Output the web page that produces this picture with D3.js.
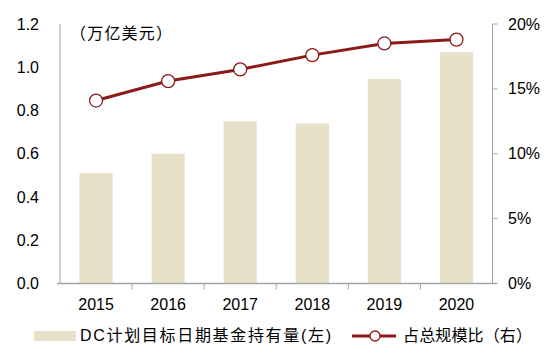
<!DOCTYPE html>
<html><head><meta charset="utf-8">
<script src="https://cdn.jsdelivr.net/npm/d3@7"></script>
<style>body{margin:0;background:#fff}svg{display:block}text{font-family:"Liberation Sans",Arial,"Noto Sans CJK SC",sans-serif;fill:#000}.cjk{font-family:"Liberation Sans","Noto Sans CJK SC",sans-serif}</style>
</head><body><svg id="c" width="549" height="355"></svg>
<script>
const categories = ["2015","2016","2017","2018","2019","2020"];
const holdings = [0.51, 0.60, 0.75, 0.74, 0.945, 1.07];
const share = [14.1, 15.6, 16.5, 17.6, 18.5, 18.8];
const leftTicks = [0, 0.2, 0.4, 0.6, 0.8, 1.0, 1.2];
const rightTicks = [0, 5, 10, 15, 20];
const unitLabel = "（万亿美元）";
const legendBar = "DC计划目标日期基金持有量(左)";
const legendLine = "占总规模比（右）";

const svg = d3.select("#c");
const L = 60, R = 492.5, T = 24, B = 283.5;
const x = d3.scaleBand().domain(categories).range([L, R]).paddingInner(0.54).paddingOuter(0.27);
const xb = d3.scaleBand().domain(categories).range([L, R]);
const yL = d3.scaleLinear().domain([0, 1.2]).range([B, T]);
const yR = d3.scaleLinear().domain([0, 20]).range([B, T]);
const grey = "#a6a6a6";

svg.selectAll("rect.bar").data(holdings).join("rect").attr("class","bar")
  .attr("x", (d,i)=>x(categories[i])).attr("width", x.bandwidth())
  .attr("y", d=>yL(d)).attr("height", d=>B - yL(d)).attr("fill", "#e8e1c9");

// left axis
svg.append("line").attr("x1",L).attr("x2",L).attr("y1",T).attr("y2",B).attr("stroke",grey);
svg.selectAll("text.yl").data(leftTicks).join("text").attr("class","yl")
  .attr("x", 39).attr("y", d=>yL(d)).attr("dy","0.35em").attr("text-anchor","end")
  .attr("font-size", 16).text(d=>d.toFixed(1));
// right axis
svg.append("line").attr("x1",R).attr("x2",R).attr("y1",T).attr("y2",B).attr("stroke",grey);
svg.selectAll("line.yr").data(rightTicks).join("line").attr("class","yr")
  .attr("x1",R).attr("x2",R+5).attr("y1",d=>yR(d)).attr("y2",d=>yR(d)).attr("stroke",grey);
svg.selectAll("text.yr").data(rightTicks).join("text").attr("class","yr")
  .attr("x", 508).attr("y", d=>yR(d)).attr("dy","0.35em").attr("text-anchor","start")
  .attr("font-size", 16).text(d=>d+"%");
// x axis
svg.append("line").attr("x1",57).attr("x2",497).attr("y1",B).attr("y2",B).attr("stroke",grey).attr("stroke-width",1.5);
svg.selectAll("line.xt").data(categories.slice(1)).join("line").attr("class","xt")
  .attr("x1",d=>xb(d)).attr("x2",d=>xb(d)).attr("y1",B).attr("y2",B+6).attr("stroke",grey);
svg.selectAll("text.xl").data(categories).join("text").attr("class","xl")
  .attr("x", d=>xb(d)+xb.bandwidth()/2).attr("y", 304).attr("dy","0.35em").attr("text-anchor","middle")
  .attr("font-size", 16).text(d=>d);

svg.append("text").attr("class","cjk").attr("x", 70).attr("y", 33).attr("dy","0.35em").attr("font-size",16).attr("textLength",102).text(unitLabel);

// line
const lc = "#8b1a1a";
const line = d3.line().x((d,i)=>xb(categories[i])+xb.bandwidth()/2).y(d=>yR(d));
svg.append("path").datum(share).attr("d", line).attr("fill","none").attr("stroke",lc).attr("stroke-width",3);
svg.selectAll("circle.pt").data(share).join("circle").attr("class","pt")
  .attr("cx",(d,i)=>xb(categories[i])+xb.bandwidth()/2).attr("cy",d=>yR(d)).attr("r",6.5)
  .attr("fill","#fff").attr("stroke",lc).attr("stroke-width",1.3);

// legend
svg.append("rect").attr("x",34).attr("y",331).attr("width",42).attr("height",10).attr("fill","#e8e1c9");
svg.append("text").attr("class","cjk").attr("x",80).attr("y",335.5).attr("dy","0.35em").attr("font-size",16).attr("textLength",251).text(legendBar);
svg.append("line").attr("x1",352).attr("x2",396).attr("y1",336).attr("y2",336).attr("stroke",lc).attr("stroke-width",3);
svg.append("circle").attr("cx",375).attr("cy",336).attr("r",5).attr("fill","#fff").attr("stroke",lc).attr("stroke-width",1.3);
svg.append("text").attr("class","cjk").attr("x",403).attr("y",335.5).attr("dy","0.35em").attr("font-size",16).attr("textLength",129).text(legendLine);
</script></body></html>
